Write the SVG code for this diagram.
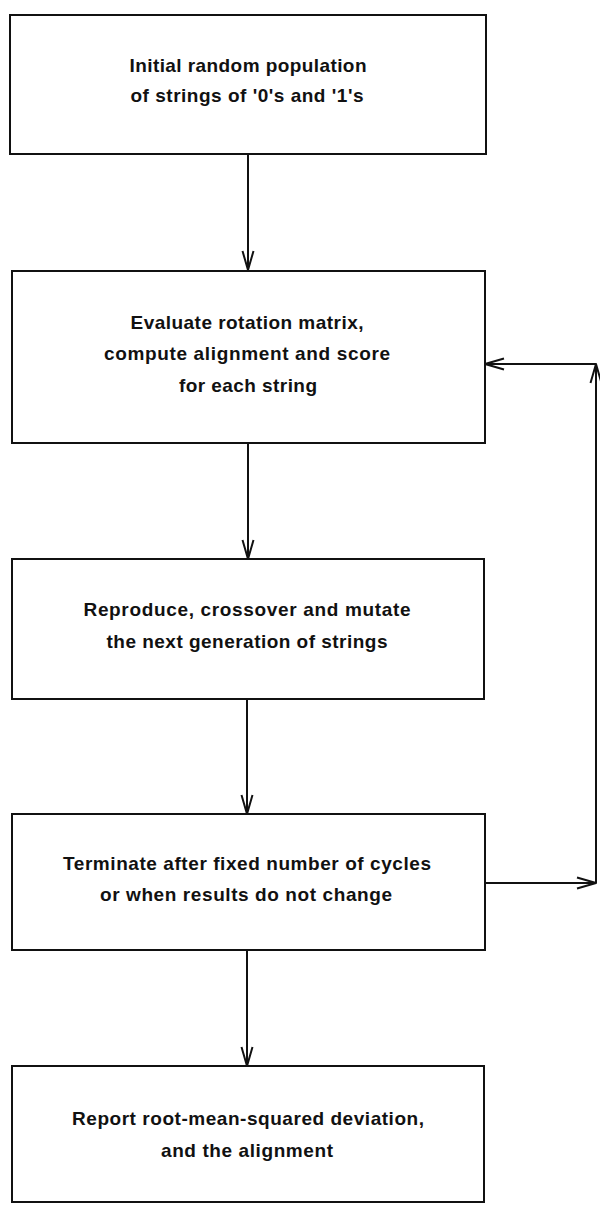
<svg xmlns="http://www.w3.org/2000/svg" width="600" height="1205" viewBox="0 0 600 1205">
<defs>
<style>
.box{fill:#fff;stroke:#111;stroke-width:2}
.lbl{font-family:"Liberation Sans",Arial,sans-serif;font-size:19px;font-weight:bold;fill:#111;text-anchor:middle}
.wire{fill:none;stroke:#111;stroke-width:2}
</style>
<marker id="arr" viewBox="0 0 22 14" refX="20" refY="7" markerWidth="22" markerHeight="14" markerUnits="userSpaceOnUse" orient="auto">
<path d="M1,1.5 L20,7 L1,12.5" fill="none" stroke="#111" stroke-width="2" stroke-linejoin="round"/>
</marker>
</defs>
<rect width="600" height="1205" fill="#fff"/>
<g id="connectors">
<line class="wire" x1="248" y1="154" x2="248" y2="270" marker-end="url(#arr)"/>
<line class="wire" x1="248" y1="443" x2="248" y2="559" marker-end="url(#arr)"/>
<line class="wire" x1="247" y1="699" x2="247" y2="814" marker-end="url(#arr)"/>
<line class="wire" x1="247" y1="950" x2="247" y2="1066" marker-end="url(#arr)"/>
<line class="wire" x1="485" y1="883" x2="596" y2="883" marker-end="url(#arr)"/>
<line class="wire" x1="596" y1="883" x2="596" y2="364" marker-end="url(#arr)"/>
<line class="wire" x1="596" y1="364" x2="485" y2="364" marker-end="url(#arr)"/>
</g>
<g id="n1">
<rect class="box" x="10" y="15" width="476" height="139"/>
<text class="lbl" x="248" y="72" textLength="237" lengthAdjust="spacing">Initial random population</text>
<text class="lbl" x="247" y="102" textLength="233" lengthAdjust="spacing">of strings of '0's and '1's</text>
</g>
<g id="n2">
<rect class="box" x="12" y="271" width="473" height="172"/>
<text class="lbl" x="247" y="329" textLength="233" lengthAdjust="spacing">Evaluate rotation matrix,</text>
<text class="lbl" x="247" y="360" textLength="286" lengthAdjust="spacing">compute alignment and score</text>
<text class="lbl" x="248" y="392" textLength="138" lengthAdjust="spacing">for each string</text>
</g>
<g id="n3">
<rect class="box" x="12" y="559" width="472" height="140"/>
<text class="lbl" x="247" y="616" textLength="327" lengthAdjust="spacing">Reproduce, crossover and mutate</text>
<text class="lbl" x="247" y="648" textLength="281" lengthAdjust="spacing">the next generation of strings</text>
</g>
<g id="n4">
<rect class="box" x="12" y="814" width="473" height="136"/>
<text class="lbl" x="247" y="870" textLength="368" lengthAdjust="spacing">Terminate after fixed number of cycles</text>
<text class="lbl" x="246" y="901" textLength="292" lengthAdjust="spacing">or when results do not change</text>
</g>
<g id="n5">
<rect class="box" x="12" y="1066" width="472" height="136"/>
<text class="lbl" x="248" y="1125" textLength="352" lengthAdjust="spacing">Report root-mean-squared deviation,</text>
<text class="lbl" x="247" y="1157" textLength="172" lengthAdjust="spacing">and the alignment</text>
</g>
</svg>
